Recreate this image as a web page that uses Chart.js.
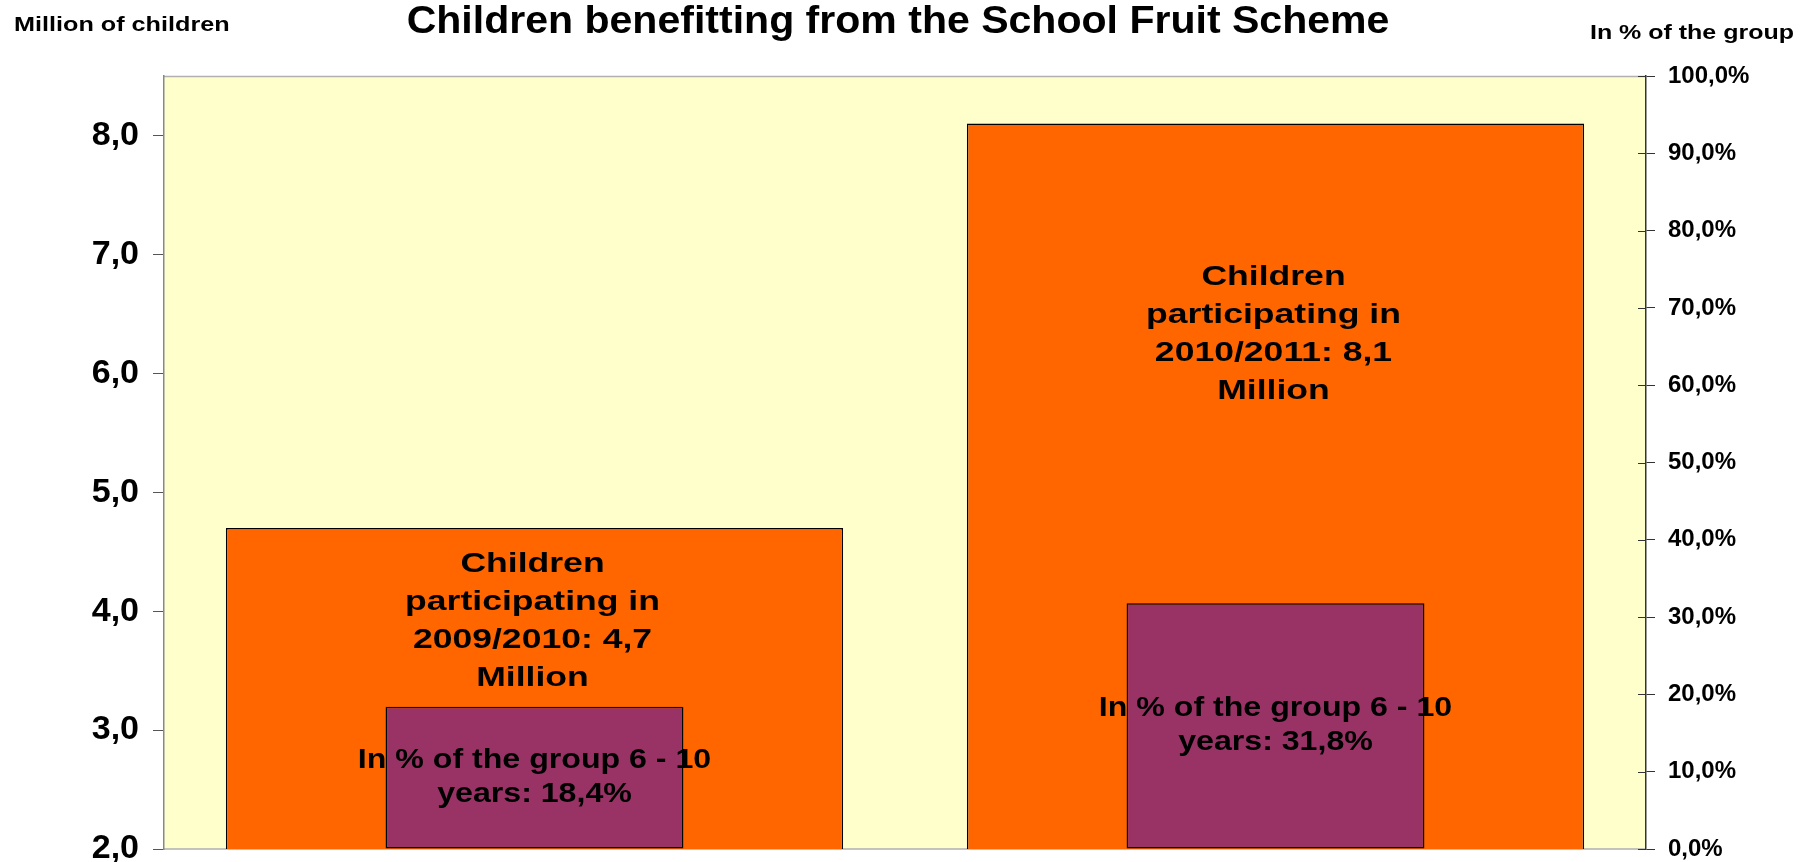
<!DOCTYPE html>
<html>
<head>
<meta charset="utf-8">
<title>Children benefitting from the School Fruit Scheme</title>
<script src="https://cdn.jsdelivr.net/npm/chart.js@4/dist/chart.umd.min.js"></script>
<style>
  html, body { margin: 0; padding: 0; background: #fff; }
  #wrap { width: 1802px; height: 862px; }
</style>
</head>
<body>
<div id="wrap"><canvas id="chart" width="1802" height="862"></canvas></div>
<script>
// datos
const SEASONS = ['2009/2010', '2010/2011'];
const CHILDREN_MIO = [4.7, 8.1];     // millones de niños
const SHARE_PCT = [18.4, 31.8];      // % del grupo 6-10 años
const CHILDREN_LABELS = [
  ['Children', 'participating in', '2009/2010: 4,7', 'Million'],
  ['Children', 'participating in', '2010/2011: 8,1', 'Million']
];
const SHARE_LABELS = [
  ['In % of the group 6 - 10', 'years: 18,4%'],
  ['In % of the group 6 - 10', 'years: 31,8%']
];
const LEFT_TICKS = [2, 3, 4, 5, 6, 7, 8];
const RIGHT_TICKS = [0, 10, 20, 30, 40, 50, 60, 70, 80, 90, 100];

const TITLE = 'Children benefitting from the School Fruit Scheme';
const LEFT_TITLE = 'Million of children';
const RIGHT_TITLE = 'In % of the group';

const FONT = '"Liberation Sans", Arial, sans-serif';
const ORANGE = '#FF6600';
const PURPLE = '#993366';
const PLOT_BG = '#FFFFCC';

const comma = v => v.toFixed(1).replace('.', ',');

// el original tiene el texto algo ensanchado
function wideText(ctx, txt, x, y, sx) {
  ctx.save();
  ctx.translate(x, y);
  ctx.scale(sx, 1);
  ctx.fillText(txt, 0, 0);
  ctx.restore();
}

// fondo amarillo, bordes y textos de cabecera
const decor = {
  id: 'decor',
  beforeDraw(chart) {
    const { ctx, chartArea: a } = chart;
    ctx.save();
    ctx.fillStyle = PLOT_BG;
    ctx.fillRect(a.left, a.top, a.right - a.left, a.bottom - a.top);
    ctx.strokeStyle = '#B0B0B0';
    ctx.lineWidth = 1.5;
    ctx.beginPath();
    ctx.moveTo(a.left, a.top + 0.5);
    ctx.lineTo(a.right, a.top + 0.5);
    ctx.moveTo(a.left, a.bottom);
    ctx.lineTo(a.right, a.bottom);
    ctx.stroke();

    ctx.fillStyle = '#000';
    ctx.textBaseline = 'middle';
    ctx.font = 'bold 38px ' + FONT;
    ctx.textAlign = 'center';
    wideText(ctx, TITLE, chart.width / 2 - 3, 23, 1.08);
    ctx.font = 'bold 21px ' + FONT;
    ctx.textAlign = 'left';
    wideText(ctx, LEFT_TITLE, 14, 25, 1.2);
    ctx.textAlign = 'right';
    wideText(ctx, RIGHT_TITLE, 1794, 33, 1.19);
    ctx.restore();
  },
  afterDraw(chart) {
    // marcas del eje derecho que cruzan hacia dentro
    const { ctx } = chart;
    const s = chart.scales.y1;
    ctx.save();
    ctx.strokeStyle = '#333';
    ctx.lineWidth = 1;
    ctx.beginPath();
    s.ticks.forEach(t => {
      const y = Math.round(s.getPixelForValue(t.value)) + 0.5;
      ctx.moveTo(s.left - 8, y);
      ctx.lineTo(s.left, y);
    });
    ctx.stroke();
    ctx.restore();
  }
};

// etiquetas dentro de las barras
const barLabels = {
  id: 'barLabels',
  afterDatasetsDraw(chart) {
    const { ctx, chartArea: a } = chart;
    ctx.save();
    ctx.fillStyle = '#000';
    ctx.textAlign = 'center';
    ctx.textBaseline = 'middle';

    const orange = chart.getDatasetMeta(1).data;
    ctx.font = 'bold 28px ' + FONT;
    orange.forEach((bar, i) => {
      const lines = CHILDREN_LABELS[i];
      const lh = 38;
      const bottom = Math.min(bar.base, a.bottom);
      const cy = bar.y + (bottom - bar.y) * 0.29;
      lines.forEach((ln, j) => {
        wideText(ctx, ln, bar.x - 2, cy + (j - (lines.length - 1) / 2) * lh, 1.27);
      });
    });

    const purple = chart.getDatasetMeta(0).data;
    ctx.font = 'bold 27px ' + FONT;
    purple.forEach((bar, i) => {
      const lines = SHARE_LABELS[i];
      const lh = 34;
      const bottom = Math.min(bar.base, a.bottom);
      const cy = (bar.y + bottom) / 2;
      lines.forEach((ln, j) => {
        wideText(ctx, ln, bar.x, cy + (j - (lines.length - 1) / 2) * lh, 1.19);
      });
    });
    ctx.restore();
  }
};

const noPad = s => { s.paddingTop = 0; s.paddingBottom = 0; };

new Chart(document.getElementById('chart'), {
  type: 'bar',
  data: {
    labels: SEASONS,
    datasets: [
      {
        label: RIGHT_TITLE,
        data: SHARE_PCT,
        yAxisID: 'y1',
        backgroundColor: PURPLE,
        borderColor: '#000',
        borderWidth: 1.5,
        borderSkipped: false,
        grouped: false,
        categoryPercentage: 1,
        barPercentage: 0.402,
        order: 0
      },
      {
        label: LEFT_TITLE,
        data: CHILDREN_MIO,
        yAxisID: 'y',
        backgroundColor: ORANGE,
        borderColor: '#000',
        borderWidth: 1.5,
        borderSkipped: false,
        grouped: false,
        categoryPercentage: 1,
        barPercentage: 0.833,
        order: 1
      }
    ]
  },
  options: {
    responsive: false,
    animation: false,
    layout: { padding: { top: 76, bottom: 13, left: 0, right: 0 } },
    plugins: {
      legend: { display: false },
      tooltip: { enabled: false },
      title: { display: false }
    },
    scales: {
      x: { display: false },
      y: {
        position: 'left',
        min: 2,
        max: 8.5,
        afterBuildTicks: s => { s.ticks = LEFT_TICKS.map(v => ({ value: v })); },
        afterFit: s => { s.width = 164; noPad(s); },
        grid: { drawOnChartArea: false, drawTicks: true, tickLength: 11, color: '#555', lineWidth: 1 },
        border: { display: true, color: '#888', width: 1.5 },
        ticks: {
          padding: 14,
          color: '#000',
          font: { family: FONT, size: 34, weight: 'bold' },
          callback: v => comma(v)
        }
      },
      y1: {
        position: 'right',
        min: 0,
        max: 100,
        afterBuildTicks: s => { s.ticks = RIGHT_TICKS.map(v => ({ value: v })); },
        afterFit: s => { s.width = 156; noPad(s); },
        grid: { drawOnChartArea: false, drawTicks: true, tickLength: 9, color: '#333', lineWidth: 1 },
        border: { display: true, color: '#333', width: 1.5 },
        ticks: {
          padding: 13,
          color: '#000',
          font: { family: FONT, size: 24, weight: 'bold' },
          callback: v => comma(v) + '%'
        }
      }
    }
  },
  plugins: [decor, barLabels]
});
</script>
</body>
</html>
